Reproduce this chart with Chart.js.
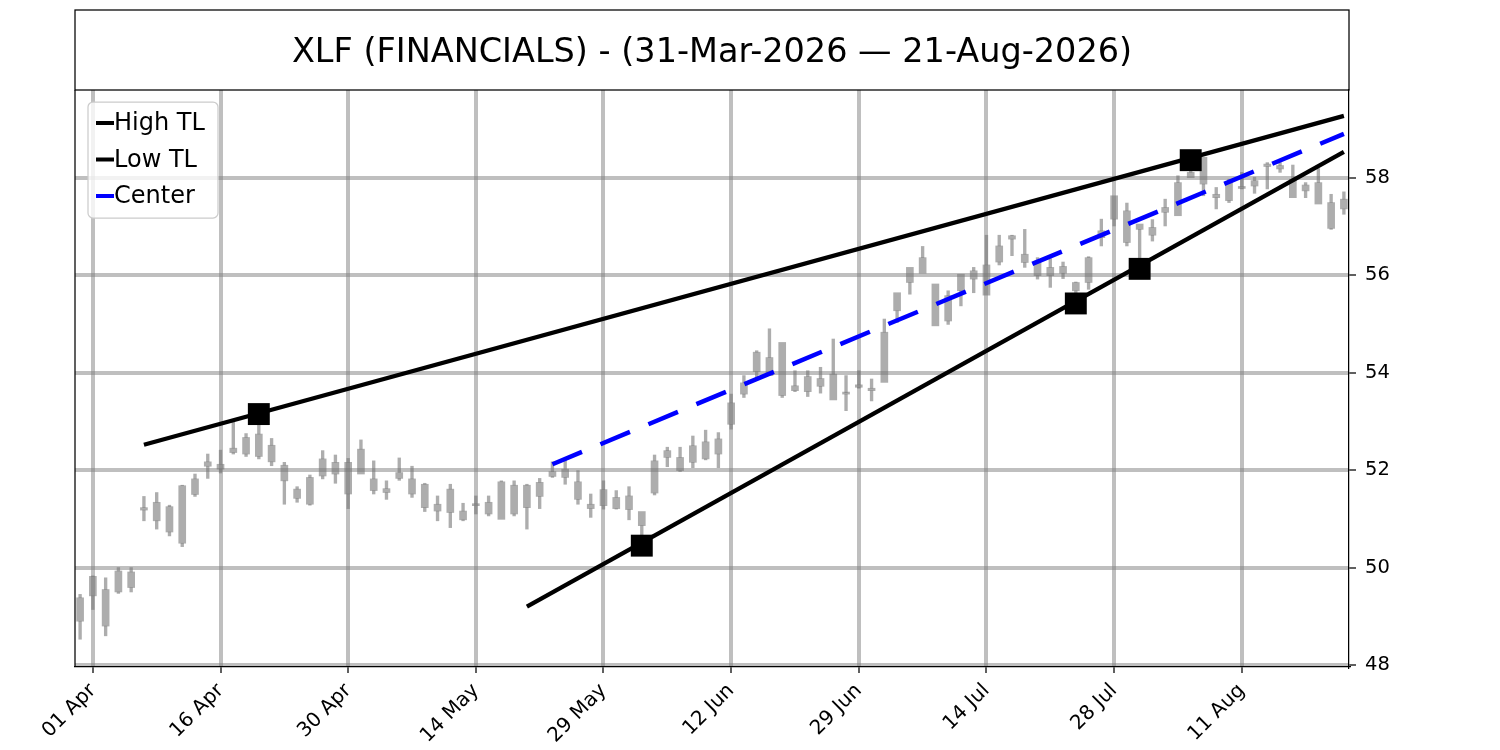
<!DOCTYPE html>
<html>
<head>
<meta charset="utf-8">
<title>XLF</title>
<script src="https://cdn.jsdelivr.net/npm/chart.js@4.4.1/dist/chart.umd.min.js"></script>
<style>
  html, body { margin: 0; padding: 0; background: #fff; }
</style>
</head>
<body>
<canvas id="chart-area" width="1500" height="750"></canvas>
<script>
'use strict';

const chartTitle = 'XLF (FINANCIALS) - (31-Mar-2026 \u2014 21-Aug-2026)';

// trading days shown on the x axis (one candle each)
const days = [
  '31 Mar','01 Apr','02 Apr','06 Apr','07 Apr','08 Apr','09 Apr','10 Apr','13 Apr','14 Apr',
  '15 Apr','16 Apr','17 Apr','20 Apr','21 Apr','22 Apr','23 Apr','24 Apr','27 Apr','28 Apr',
  '29 Apr','30 Apr','01 May','04 May','05 May','06 May','07 May','08 May','11 May','12 May',
  '13 May','14 May','15 May','18 May','19 May','20 May','21 May','22 May','26 May','27 May',
  '28 May','29 May','01 Jun','02 Jun','03 Jun','04 Jun','05 Jun','08 Jun','09 Jun','10 Jun',
  '11 Jun','12 Jun','15 Jun','16 Jun','17 Jun','18 Jun','22 Jun','23 Jun','24 Jun','25 Jun',
  '26 Jun','29 Jun','30 Jun','01 Jul','02 Jul','06 Jul','07 Jul','08 Jul','09 Jul','10 Jul',
  '13 Jul','14 Jul','15 Jul','16 Jul','17 Jul','20 Jul','21 Jul','22 Jul','23 Jul','24 Jul',
  '27 Jul','28 Jul','29 Jul','30 Jul','31 Jul','03 Aug','04 Aug','05 Aug','06 Aug','07 Aug',
  '10 Aug','11 Aug','12 Aug','13 Aug','14 Aug','17 Aug','18 Aug','19 Aug','20 Aug','21 Aug'
];

const highs = [
  49.45,49.83,49.79,50.00,50.00,51.46,51.54,51.28,51.69,51.92,
  52.33,52.41,52.99,52.75,53.10,52.65,52.16,51.66,51.90,52.40,
  52.31,52.24,52.62,52.19,51.78,52.25,52.08,51.73,51.47,51.71,
  51.32,51.47,51.47,51.78,51.78,51.71,51.83,52.17,52.23,51.99,
  51.51,51.78,51.58,51.66,51.15,52.31,52.47,52.47,52.70,52.82,
  52.77,53.56,53.94,54.45,54.90,54.62,54.04,54.04,54.11,54.69,
  53.94,54.04,53.87,55.10,55.64,56.16,56.59,55.82,55.68,56.02,
  56.16,56.82,56.82,56.82,56.94,56.36,56.34,56.27,55.86,56.38,
  57.15,57.63,57.48,57.05,57.14,57.56,58.04,58.33,58.42,57.80,
  57.97,58.11,58.01,58.31,58.31,58.26,57.90,58.19,57.66,57.71
];
const lows = [
  48.53,49.14,48.60,49.47,49.50,50.96,50.79,50.65,50.43,51.46,
  51.83,51.94,52.33,52.28,52.23,52.09,51.30,51.34,51.28,51.82,
  51.73,51.21,51.92,51.51,51.40,51.79,51.44,51.15,50.96,50.82,
  50.96,51.10,51.06,50.99,51.06,50.79,51.21,51.85,51.71,51.30,
  51.03,51.20,51.20,50.98,50.45,51.49,52.07,51.97,52.05,52.21,
  52.05,52.84,53.49,53.90,53.94,53.49,53.61,53.51,53.58,53.44,
  53.22,53.68,53.42,53.80,55.03,55.61,56.04,54.96,54.99,55.37,
  55.64,55.59,56.21,56.40,56.16,55.92,55.75,55.93,55.42,55.71,
  56.60,57.01,56.60,56.13,56.70,57.01,57.22,58.00,57.63,57.36,
  57.49,57.77,57.68,57.77,58.11,57.59,57.59,57.46,56.94,57.25
];
const opens = [
  49.38,49.82,49.55,49.93,49.91,51.23,51.34,51.25,51.68,51.82,
  52.17,52.12,52.45,52.67,52.74,52.51,52.10,51.61,51.85,52.23,
  52.16,52.16,52.43,51.82,51.62,51.95,51.82,51.71,51.30,51.61,
  51.16,51.30,51.34,51.76,51.69,51.69,51.75,51.97,52.02,51.76,
  51.30,51.60,51.44,51.47,51.15,52.19,52.40,52.26,52.50,52.58,
  52.64,53.38,53.79,54.42,54.31,54.62,53.73,53.92,53.88,53.97,
  53.59,53.75,53.68,54.83,55.64,56.16,56.36,55.82,55.58,56.02,
  56.09,56.21,56.60,56.81,56.43,56.29,56.16,56.18,55.85,56.36,
  56.91,57.63,57.32,57.05,56.98,57.39,57.90,58.11,58.42,57.66,
  57.90,57.82,57.94,58.28,58.25,57.97,57.85,57.90,57.49,57.56
];
const closes = [
  48.90,49.42,48.80,49.50,49.59,51.18,50.96,50.73,50.50,51.50,
  52.08,52.02,52.36,52.33,52.28,52.17,51.78,51.42,51.30,51.88,
  51.92,51.51,51.92,51.58,51.54,51.83,51.51,51.23,51.16,51.13,
  50.98,51.27,51.10,50.99,51.10,51.23,51.46,51.87,51.85,51.40,
  51.21,51.27,51.21,51.19,50.86,51.53,52.26,51.99,52.16,52.23,
  52.33,52.94,53.56,54.02,53.94,53.53,53.63,53.61,53.72,53.44,
  53.56,53.70,53.63,53.80,55.27,55.85,56.04,54.96,55.06,55.68,
  55.92,55.59,56.27,56.74,56.26,55.99,55.99,56.04,55.68,55.85,
  56.77,57.15,56.67,56.94,56.82,57.29,57.22,58.00,57.87,57.59,
  57.53,57.78,57.83,58.23,58.18,57.59,57.73,57.46,56.96,57.36
];

const tickLabels = ['01 Apr','16 Apr','30 Apr','14 May','29 May','12 Jun','29 Jun','14 Jul','28 Jul','11 Aug'];
const yTicks = [48, 50, 52, 54, 56, 58];

// trend lines: end points (day, price)
const highTlDays = ['08 Apr', '21 Aug'];
const highTlValues = [52.52, 59.27];
const lowTlDays = ['20 May', '21 Aug'];
const lowTlValues = [49.20, 58.53];
const centerDays = ['22 May', '21 Aug'];
const centerValues = [52.12, 58.90];

// pivot markers
const pivotDays = ['21 Apr', '05 Aug', '03 Jun', '23 Jul', '30 Jul'];
const pivotValues = [53.15, 58.36, 50.45, 55.42, 56.13];

const dayIndex = (d) => days.indexOf(d);
const pts = (ds, vs) => ds.map((d, i) => ({x: dayIndex(d), y: vs[i]}));

const candleColor = 'rgba(118,118,118,0.6)';
const gridColor = 'rgba(128,128,128,0.5)';
const font = '"DejaVu Sans", "Liberation Sans", sans-serif';

// wick split in two so it never overlaps the body (keeps the grey even)
var upperWicks = [], lowerWicks = [], bodies = [];
for (let i = 0; i < days.length; i++) {
  let top = Math.max(opens[i], closes[i]), bot = Math.min(opens[i], closes[i]);
  bodies.push({x: i, y: [bot, top]});
  if (highs[i] > top) upperWicks.push({x: i, y: [top, highs[i]]});
  if (lows[i] < bot) lowerWicks.push({x: i, y: [lows[i], bot]});
}

const frame = {
  id: 'frame',
  afterDraw(chart) {
    const ctx = chart.ctx, a = chart.chartArea;
    ctx.save();
    ctx.strokeStyle = '#000';
    ctx.lineWidth = 1.25;
    // title box
    ctx.strokeRect(a.left, 10, a.right - a.left, a.top - 10);
    ctx.beginPath();
    ctx.moveTo(a.left, a.top);
    ctx.lineTo(a.left, a.bottom);
    ctx.stroke();
    ctx.fillStyle = '#000';
    ctx.font = '33.5px ' + font;
    ctx.textAlign = 'center';
    ctx.textBaseline = 'middle';
    ctx.fillText(chartTitle, (a.left + a.right) / 2, 53);

    // legend
    const lx = a.left + 13, ly = a.top + 12, lw = 130, lh = 116;
    ctx.beginPath();
    ctx.roundRect(lx, ly, lw, lh, 5);
    ctx.fillStyle = 'rgba(255,255,255,0.8)';
    ctx.fill();
    ctx.strokeStyle = '#cccccc';
    ctx.lineWidth = 1.25;
    ctx.stroke();
    const items = [['High TL', '#000'], ['Low TL', '#000'], ['Center', '#0000ff']];
    ctx.font = '24px ' + font;
    ctx.textAlign = 'left';
    items.forEach((it, k) => {
      const y = ly + 21 + k * 36.5;
      ctx.strokeStyle = it[1];
      ctx.lineWidth = 4;
      ctx.beginPath();
      ctx.moveTo(lx + 8, y);
      ctx.lineTo(lx + 26, y);
      ctx.stroke();
      ctx.fillStyle = '#000';
      ctx.fillText(it[0], lx + 26, y + 1);
    });
    ctx.restore();
  }
};

var config = {
  type: 'bar',
  data: {
    datasets: [
      {type: 'line', data: pts(pivotDays, pivotValues), showLine: false,
       pointStyle: 'rect', pointRadius: 15.5, pointBackgroundColor: '#000', pointBorderWidth: 0, order: 0},
      {type: 'line', data: pts(centerDays, centerValues), borderColor: '#0000ff', borderWidth: 4.5,
       borderDash: [32, 20], pointRadius: 0, order: 1},
      {type: 'line', data: pts(highTlDays, highTlValues), borderColor: '#000', borderWidth: 4.3, pointRadius: 0, order: 1},
      {type: 'line', data: pts(lowTlDays, lowTlValues), borderColor: '#000', borderWidth: 4.3, pointRadius: 0, order: 1},
      {data: bodies, backgroundColor: candleColor, barThickness: 7, minBarLength: 2, grouped: false, order: 2},
      {data: upperWicks, backgroundColor: candleColor, barThickness: 2.7, grouped: false, order: 3},
      {data: lowerWicks, backgroundColor: candleColor, barThickness: 2.7, grouped: false, order: 3}
    ]
  },
  options: {
    responsive: false,
    animation: false,
    layout: {padding: {left: 75, top: 90, right: 0, bottom: 0}},
    plugins: {legend: {display: false}, tooltip: {enabled: false}, title: {display: false}},
    scales: {
      x: {
        type: 'linear',
        min: -0.4,
        max: 99.4,
        offset: false,
        afterBuildTicks: (s) => { s.ticks = tickLabels.map((l) => ({value: dayIndex(l)})); },
        afterFit: (s) => { s.height = 83; },
        grid: {offset: false, color: gridColor, lineWidth: 4,
               tickColor: '#000', tickWidth: 1.25, tickLength: 6},
        border: {color: '#000', width: 1.25},
        ticks: {
          autoSkip: false, minRotation: 45, maxRotation: 45, padding: 6,
          color: '#000', font: {family: font, size: 20},
          callback: (v) => days[v]
        }
      },
      y: {
        position: 'right',
        min: 47.96,
        max: 59.8,
        afterBuildTicks: (s) => { s.ticks = yTicks.map((v) => ({value: v})); },
        afterFit: (s) => { s.width = 151; },
        grid: {color: gridColor, lineWidth: 4,
               tickColor: '#000', tickWidth: 1.25, tickLength: 7},
        border: {color: '#000', width: 1.25},
        ticks: {padding: 9, color: '#000', font: {family: font, size: 19.5}}
      }
    }
  },
  plugins: [frame]
};

window.onload = function() {
  var ctx = document.getElementById('chart-area').getContext('2d');
  window.myChart = new Chart(ctx, config);
};
</script>
</body>
</html>
